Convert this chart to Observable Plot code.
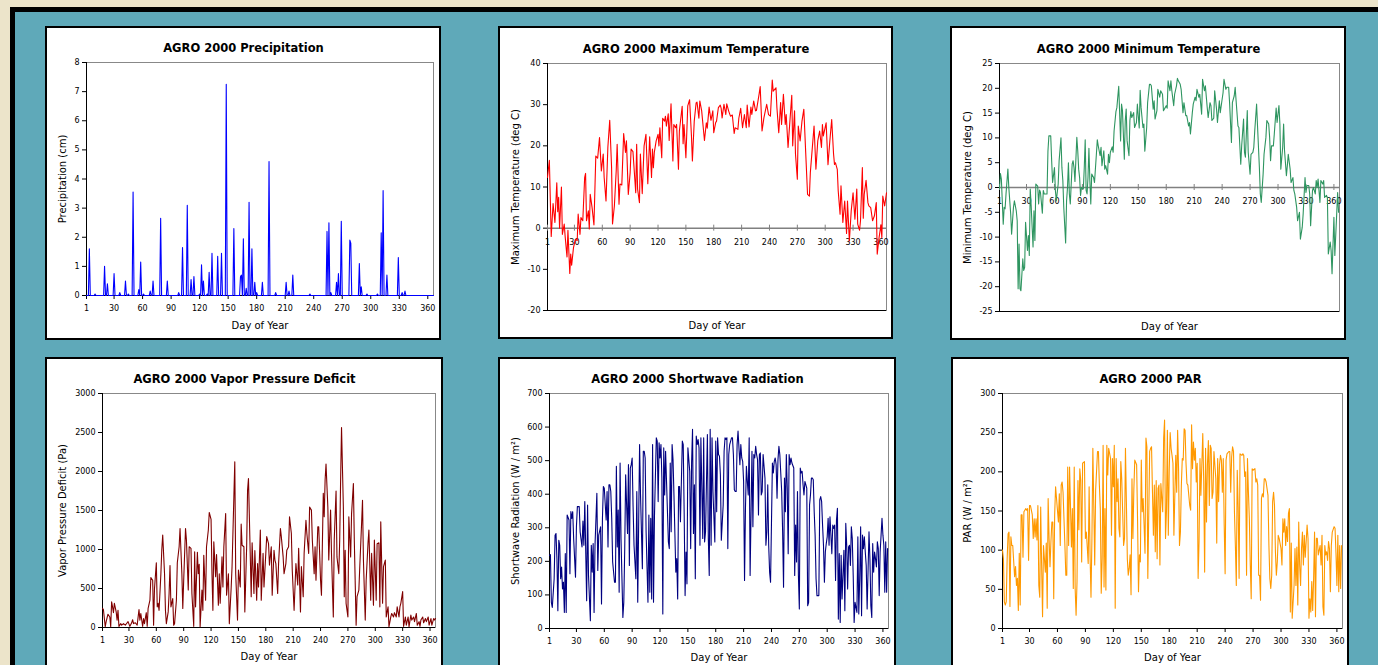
<!DOCTYPE html>
<html><head><meta charset="utf-8">
<script src="https://cdn.jsdelivr.net/npm/d3@7"></script>
<script src="https://cdn.jsdelivr.net/npm/@observablehq/plot@0.6"></script>
<style>
html,body{margin:0;padding:0;}
body{width:1378px;height:665px;overflow:hidden;background:#ece4ca;position:relative;font-family:"DejaVu Sans",sans-serif;}
#frame{position:absolute;left:10px;top:7px;width:1400px;height:700px;background:#5fa9b9;border-left:5px solid #000;border-top:5px solid #000;}
.panel{position:absolute;background:#fff;border:2px solid #000;box-sizing:border-box;overflow:hidden;}
.panel svg{display:block;}
</style></head><body>
<div id="frame"></div>
<script>
// ---------- data (day of year, value) ----------
const dayTicks = [1,30,60,90,120,150,180,210,240,270,300,330,360];

const precipRainDays = [4,10,20,23,30,36,42,45,50,56,58,61,68,71,79,86,98,102,107,111,114,120,122,124,128,130,133,139,143,148,156,163,164,166,169,172,175,178,180,186,193,200,211,214,218,236,254,256,258,264,266,269,278,279,288,290,296,307,311,313,317,329,333,336];
const precipRainCm = [1.6,0.05,1.0,0.4,0.75,0.1,0.5,0.05,3.55,0.2,1.15,0.05,0.15,0.5,2.65,0.5,0.1,1.65,3.1,0.55,0.65,0.05,1.05,0.5,0.05,0.8,1.45,1.35,1.45,7.25,2.3,0.65,0.7,1.95,0.25,3.2,1.6,0.45,0.1,0.45,4.6,0.1,0.45,0.15,0.7,0.05,2.2,2.5,0.1,0.45,0.75,2.55,1.9,1.8,1.1,0.3,0.05,0.05,2.15,3.6,0.7,1.3,0.1,0.15];

const maxTemp = [[1,12.3],[3,16.5],[5,-2],[7,6],[9,1.4],[11,11],[12,4],[13,7.5],[14,0],[16,10],[17,-1.5],[19,1],[20,-2],[22,-7],[23,-0.5],[25,-11],[26,-6.3],[27,-9],[29,-4.7],[31,-2.7],[33,-3],[34,3.4],[36,-1.5],[37,2.6],[39,1.8],[41,12.3],[42,13.3],[43,1.8],[45,4.2],[46,-0.2],[47,8.2],[49,5],[51,0.8],[53,17.5],[55,17],[57,22],[59,13.9],[61,18],[62,12.3],[64,6.6],[66,19.7],[68,26.2],[70,14.7],[71,1],[73,5.4],[75,14],[76,20.4],[78,5.8],[79,10.7],[81,10.5],[83,23],[85,18.4],[86,21.2],[88,8.2],[90,13.5],[91,19.2],[93,18.6],[96,8.6],[97,20.4],[98,9.5],[100,6.2],[101,18],[103,8.4],[105,20],[107,22.8],[109,10.8],[111,22.2],[113,12.3],[114,19.2],[115,14.7],[116,18.4],[118,21.2],[120,22.8],[121,20],[122,24.4],[124,17.1],[125,26.7],[127,26],[128,27.2],[129,24.8],[131,27.8],[132,21.3],[134,30.2],[136,16.3],[137,25.2],[139,24.4],[140,25.2],[142,14.3],[143,23.6],[146,29.6],[147,20.5],[148,25.2],[150,17.1],[152,29.7],[154,31.2],[156,22.4],[157,16.3],[159,26],[161,30.4],[162,30.6],[164,26.7],[165,30.9],[167,28.5],[170,21.3],[172,25.6],[173,24.3],[175,29.4],[177,26.2],[179,28.5],[180,23.2],[182,25.6],[183,26],[185,29.3],[187,29.9],[188,29.1],[189,26.8],[191,30.1],[193,27.6],[194,30.2],[196,28.5],[198,27.2],[200,27.5],[202,23],[203,24.4],[206,24],[207,26.7],[209,29.1],[211,24.4],[213,27.6],[215,24.4],[216,29.9],[218,24.6],[220,29.4],[221,27.6],[223,30.9],[225,28.5],[226,28.6],[229,32.8],[230,34.4],[232,23.6],[234,26.8],[237,30.1],[239,27.6],[241,27.2],[243,36],[244,33.3],[247,34.1],[248,29.3],[250,23.2],[252,30.5],[253,25.2],[255,32.5],[257,25.2],[258,27.6],[260,19.6],[262,26],[264,32.3],[265,20],[267,28.5],[268,18],[270,11.9],[271,24.8],[273,21.2],[275,26],[277,28.9],[279,18.4],[281,8.2],[283,7.8],[284,13.5],[287,22],[288,24.8],[290,14.3],[292,21.2],[294,23.6],[296,19.6],[297,25.2],[298,22.4],[301,25.6],[303,15.4],[305,21.2],[307,26.4],[309,18],[310,15.5],[311,15.9],[313,14.3],[314,9.1],[316,3.4],[317,10.3],[319,1.4],[321,6.6],[323,-1.3],[324,6.6],[326,-3.1],[328,4.2],[330,8.6],[332,2.2],[334,9.5],[335,1],[337,-0.5],[338,1.8],[340,14.7],[341,2.4],[342,8.2],[344,11.6],[346,6.2],[347,5.4],[349,5],[351,1.8],[353,3],[355,6.2],[356,-6.3],[358,-2.3],[360,0.8],[361,-2.3],[362,7.8],[364,5.4],[366,8.6]];

const minTemp = [[1,-0.3],[2,2.8],[3,1.7],[5,-7.4],[6,-4],[7,-4.3],[8,-1.3],[10,3.7],[11,0],[13,-5.3],[14,-9.4],[16,-4],[17,-2.7],[19,-4.7],[20,-6.7],[21,-20.4],[22,-11.4],[23,-20.4],[24,-20.8],[26,-14.4],[27,-16.7],[28,-16.1],[29,-7],[31,-12.7],[32,-9.7],[33,-13.7],[34,-0.3],[35,-3.7],[37,-12],[38,-4.7],[39,-10.7],[40,0.7],[42,0.3],[43,-3.3],[44,-0.5],[45,-1],[47,-5.2],[48,-0.6],[49,-1.3],[51,-1.3],[52,-1.3],[53,7.3],[54,10.4],[56,10.4],[57,5.4],[58,1],[60,4],[61,-0.6],[62,-2.7],[64,0.7],[65,5.4],[67,10],[68,4],[69,1.4],[70,-4],[72,-11.2],[73,-2.7],[74,0],[75,5],[76,-1.3],[77,-3.3],[79,4.7],[80,5.4],[81,4],[82,1.2],[84,10.1],[85,7.4],[86,3.7],[87,2],[88,-1.6],[89,0],[91,-0.3],[92,4],[93,9.6],[94,-0.6],[95,-1.3],[96,2],[97,7.9],[98,1.4],[99,-3.3],[100,2.7],[102,2],[103,1],[105,6.7],[106,9.6],[107,8.4],[109,6.4],[110,8.1],[111,4.4],[113,7.4],[114,3.7],[115,4.4],[117,2.7],[118,6.7],[119,5],[120,7.1],[122,8.2],[123,7.1],[124,11.4],[126,15.3],[127,16.1],[128,18.3],[129,20.4],[131,9.4],[132,16.8],[133,15.5],[135,5.7],[136,13.5],[137,15.8],[138,9.4],[140,6.4],[141,13.5],[142,15.3],[143,14.1],[145,15.1],[146,12.1],[148,13.1],[149,16.8],[151,12],[152,19.6],[153,16.1],[155,12.1],[156,12.8],[157,7.3],[159,12.1],[160,17.1],[162,20.8],[163,20.8],[164,20.5],[166,15.8],[167,17.5],[168,13.8],[170,15.5],[171,19.8],[173,18.2],[174,19.5],[176,18.8],[177,15.5],[178,15.8],[180,16.5],[181,16],[182,21.5],[184,19.5],[185,21.5],[186,19.5],[188,16.5],[189,18.8],[191,20.5],[192,22],[193,21.5],[195,20.8],[196,19.8],[198,15.1],[199,17.1],[201,14.5],[202,14.5],[204,12.4],[205,13.1],[206,10.8],[208,15.1],[209,16.8],[211,18.2],[212,17.5],[213,19.8],[215,18.2],[216,18.8],[218,14.8],[219,21.8],[221,19.5],[222,20.5],[224,16.1],[225,14.1],[227,17.1],[228,16.5],[229,13.5],[231,14],[232,19.5],[234,15.8],[235,13.1],[237,17.5],[238,15.1],[240,17.8],[241,19.1],[242,21.8],[244,19.8],[245,20.2],[247,20.2],[248,17.1],[250,9.1],[251,17.1],[253,18.5],[254,20.2],[255,17.5],[257,12.4],[258,12.1],[260,4.7],[261,8.4],[263,13.8],[264,7.1],[265,6.1],[267,15.5],[268,7.1],[270,2.7],[271,6.7],[273,7.1],[274,8.1],[275,11.4],[277,16.8],[278,12.4],[280,4],[281,-1.3],[282,-3],[284,2.7],[285,6.7],[287,10.1],[288,13.5],[290,12.8],[291,10.1],[292,5.4],[293,8.4],[295,8.4],[296,10.8],[298,16],[299,13.1],[301,16.5],[302,12.8],[303,3.7],[305,8.1],[306,12.8],[307,7.4],[309,2.4],[310,4.4],[311,6.7],[313,3.7],[314,1],[316,2],[317,-0.6],[318,-1.3],[320,-4],[321,-6.7],[323,-5],[324,-10.4],[326,-8],[327,-5.3],[329,2],[330,-1],[331,0.4],[333,0.4],[334,-1.3],[335,-7.7],[337,-0.6],[338,0],[340,-1.3],[341,1.4],[342,0],[343,1.7],[345,-3],[346,1.4],[348,0.7],[349,1.4],[350,-2],[352,-1.6],[353,-2],[354,-13.4],[356,-11],[357,-12.7],[358,-17.4],[360,-6],[361,-13.7],[363,-5.3],[364,-1],[365,-5]];

const vpd = [[1,245],[2,230],[4,10],[5,75],[7,170],[9,135],[10,10],[11,330],[12,265],[13,190],[14,310],[16,200],[17,95],[18,220],[19,15],[21,50],[22,30],[24,50],[26,30],[27,45],[29,75],[31,15],[33,60],[34,100],[35,50],[37,60],[38,45],[39,30],[41,230],[42,95],[43,180],[45,15],[46,115],[47,50],[49,190],[50,15],[51,245],[53,350],[54,640],[56,605],[57,30],[58,500],[60,830],[61,265],[62,310],[63,220],[65,690],[66,1000],[67,1185],[69,690],[70,220],[71,50],[73,200],[74,435],[75,795],[76,265],[78,370],[79,30],[80,50],[82,350],[83,830],[85,1035],[86,1270],[88,690],[89,245],[90,605],[92,1270],[93,1120],[95,480],[96,1035],[98,1015],[99,435],[101,15],[102,970],[103,265],[105,965],[106,690],[107,810],[108,10],[110,480],[111,220],[112,925],[114,350],[115,1035],[117,1250],[118,1475],[120,1385],[121,690],[122,220],[123,1100],[125,650],[126,935],[128,285],[129,690],[130,310],[132,905],[133,520],[134,1035],[136,1460],[137,415],[139,690],[140,50],[142,500],[143,780],[145,1675],[146,2125],[147,690],[149,95],[150,735],[152,520],[153,1325],[154,1055],[156,1035],[157,200],[159,1035],[160,1760],[161,1910],[163,905],[164,395],[165,1085],[167,435],[168,985],[170,350],[171,820],[172,520],[174,1250],[175,350],[177,950],[178,520],[180,950],[181,1165],[183,1075],[184,800],[186,1035],[187,415],[189,990],[190,865],[191,820],[193,435],[194,820],[196,1270],[197,1165],[199,905],[200,690],[202,820],[203,990],[205,1035],[206,1420],[208,1205],[209,735],[211,220],[212,520],[213,820],[215,545],[216,1015],[218,200],[219,780],[221,395],[222,950],[224,1375],[225,1205],[227,950],[228,1545],[230,1505],[231,1120],[233,690],[234,1035],[235,605],[237,1290],[238,1290],[240,605],[241,415],[243,1720],[244,1420],[245,1890],[246,2095],[248,1545],[249,865],[251,1505],[252,950],[254,135],[255,1120],[257,1750],[258,905],[260,690],[261,1120],[262,1890],[263,2565],[265,1545],[266,395],[267,990],[268,310],[270,135],[271,1420],[273,905],[274,1460],[276,1845],[277,1120],[279,30],[280,395],[282,480],[283,780],[285,1335],[286,1630],[287,865],[289,95],[290,605],[292,1075],[293,1250],[295,350],[296,950],[298,285],[299,1120],[301,350],[302,1075],[304,1085],[305,265],[306,1355],[308,310],[309,780],[311,865],[312,135],[314,265],[315,10],[317,135],[318,180],[320,135],[321,190],[323,135],[324,265],[326,135],[327,265],[328,310],[330,460],[331,15],[333,135],[334,30],[336,135],[337,10],[339,160],[340,95],[342,135],[343,75],[345,180],[346,30],[348,75],[349,15],[350,95],[352,135],[353,60],[355,115],[356,75],[358,135],[359,30],[361,115],[362,30],[364,115],[365,95],[366,115]];

const shortwave = [[1,218],[2,220],[3,78],[4,63],[6,148],[7,278],[8,283],[9,208],[10,53],[11,263],[12,248],[13,148],[14,183],[15,118],[16,138],[17,48],[18,223],[19,48],[20,338],[22,323],[23,163],[24,348],[25,328],[26,348],[27,268],[29,153],[30,303],[31,363],[33,363],[34,288],[36,243],[37,320],[38,248],[39,378],[41,83],[42,368],[43,158],[45,23],[46,248],[47,168],[48,253],[49,48],[50,248],[52,403],[53,173],[54,278],[56,303],[57,73],[58,328],[59,423],[60,418],[62,323],[63,408],[64,243],[65,428],[66,428],[67,408],[68,328],[69,198],[71,138],[72,138],[73,483],[74,243],[75,353],[76,108],[77,493],[78,268],[80,33],[81,78],[82,238],[83,458],[85,283],[86,488],[87,188],[88,478],[89,488],[90,508],[91,363],[92,248],[94,148],[95,408],[96,78],[98,548],[99,398],[101,178],[102,528],[103,528],[104,508],[105,288],[107,78],[108,338],[109,108],[110,328],[111,88],[112,548],[113,78],[114,333],[116,568],[117,558],[118,378],[119,553],[120,508],[121,548],[122,448],[123,43],[124,538],[125,398],[126,528],[127,438],[129,258],[130,238],[131,493],[132,288],[133,548],[134,503],[135,398],[137,168],[138,208],[139,88],[140,423],[141,423],[142,318],[144,558],[145,548],[146,343],[147,98],[148,228],[149,133],[150,538],[152,468],[153,238],[154,493],[155,593],[156,283],[157,428],[158,148],[159,573],[160,548],[161,563],[162,538],[163,248],[164,568],[166,268],[167,568],[168,258],[169,288],[171,578],[172,268],[173,158],[174,593],[175,248],[176,568],[177,408],[179,258],[180,558],[181,348],[182,568],[183,518],[184,513],[185,458],[186,263],[188,368],[189,528],[190,568],[191,563],[192,568],[193,238],[194,518],[195,548],[197,568],[198,568],[199,518],[200,413],[201,408],[202,408],[203,548],[204,588],[206,488],[207,548],[208,508],[209,498],[210,438],[211,143],[212,358],[213,483],[214,438],[215,398],[216,568],[217,158],[219,528],[220,303],[221,518],[222,508],[223,543],[224,518],[225,503],[226,338],[227,518],[228,523],[229,398],[230,408],[231,518],[233,448],[234,248],[235,288],[236,428],[237,248],[238,168],[239,138],[241,493],[242,463],[243,498],[244,508],[245,488],[246,388],[247,503],[248,543],[249,518],[251,408],[252,288],[253,123],[254,448],[255,348],[256,518],[257,418],[258,223],[259,518],[260,488],[261,508],[262,493],[264,478],[265,158],[266,308],[267,198],[268,408],[269,158],[270,58],[271,478],[272,463],[273,468],[274,428],[275,398],[276,438],[278,418],[279,68],[280,78],[281,368],[282,398],[283,448],[284,448],[285,443],[286,348],[287,278],[288,148],[289,98],[291,98],[292,383],[293,393],[294,378],[295,308],[296,248],[297,138],[298,228],[299,253],[300,273],[301,328],[302,248],[303,333],[305,223],[306,308],[307,298],[308,308],[309,143],[310,323],[311,358],[312,28],[313,223],[314,18],[315,218],[316,88],[318,233],[319,53],[320,313],[321,248],[322,118],[323,243],[324,248],[325,188],[326,303],[327,268],[328,158],[329,18],[330,78],[332,48],[333,273],[334,43],[335,148],[336,303],[337,38],[338,278],[339,238],[340,273],[341,228],[342,188],[343,58],[345,288],[346,208],[347,68],[348,33],[349,253],[350,168],[351,228],[352,208],[353,183],[354,258],[355,238],[356,98],[357,228],[359,328],[360,278],[361,248],[362,108],[363,258],[364,108],[365,238]];

const par = [[1,100],[2,89],[3,34],[4,30],[5,34],[6,89],[7,121],[8,123],[9,28],[10,117],[11,106],[12,106],[14,66],[15,79],[16,55],[17,64],[18,23],[19,96],[20,30],[21,145],[22,145],[23,91],[24,149],[25,151],[26,153],[27,151],[28,153],[29,87],[30,157],[31,157],[33,145],[34,115],[35,140],[36,117],[37,140],[38,113],[39,157],[40,55],[41,40],[42,155],[43,81],[44,15],[45,106],[47,72],[48,109],[49,26],[50,166],[51,115],[52,79],[53,111],[54,136],[55,136],[56,38],[57,145],[58,181],[59,166],[61,136],[62,172],[63,106],[64,183],[65,187],[66,174],[67,140],[68,106],[69,68],[70,68],[71,206],[72,106],[73,206],[75,104],[76,153],[77,51],[78,206],[79,51],[80,17],[81,60],[82,189],[83,126],[84,204],[85,189],[86,85],[87,211],[89,213],[90,115],[91,123],[92,104],[93,83],[94,181],[95,94],[96,40],[97,115],[98,230],[99,157],[100,81],[101,177],[103,226],[104,226],[105,183],[106,153],[107,45],[108,89],[109,234],[110,53],[111,153],[112,49],[113,234],[114,196],[115,230],[117,217],[118,119],[119,217],[120,181],[121,234],[122,26],[123,217],[124,162],[125,191],[126,128],[127,117],[128,213],[129,191],[131,106],[132,115],[133,230],[134,162],[135,89],[136,68],[137,77],[138,94],[139,43],[140,191],[141,115],[142,177],[143,215],[145,209],[146,138],[147,47],[148,94],[149,85],[150,215],[151,149],[152,166],[153,132],[154,96],[155,243],[156,232],[157,64],[159,226],[160,230],[161,232],[162,174],[163,119],[164,183],[165,98],[166,189],[167,89],[168,179],[169,183],[170,81],[171,185],[173,149],[174,243],[175,266],[176,115],[177,149],[178,253],[179,119],[180,202],[181,250],[182,230],[183,221],[184,211],[185,119],[187,221],[188,174],[189,253],[190,204],[191,106],[192,123],[193,183],[194,217],[195,215],[196,255],[197,253],[198,211],[199,185],[200,183],[202,157],[203,151],[204,260],[205,204],[206,238],[207,215],[208,230],[209,187],[210,211],[211,64],[212,111],[213,217],[214,170],[216,249],[217,189],[218,72],[219,230],[220,136],[221,209],[222,240],[223,157],[224,234],[225,230],[226,166],[227,174],[228,226],[230,191],[231,109],[232,217],[233,162],[234,209],[235,221],[236,215],[237,174],[238,217],[239,132],[240,70],[241,215],[242,223],[244,226],[245,226],[246,174],[247,219],[248,232],[249,226],[250,149],[251,106],[252,55],[253,202],[254,155],[255,64],[256,223],[258,221],[259,223],[260,221],[261,194],[262,200],[263,68],[264,217],[265,174],[266,140],[267,81],[268,38],[269,204],[270,202],[272,204],[273,187],[274,191],[275,183],[276,68],[277,68],[278,36],[279,166],[280,172],[281,168],[282,191],[283,191],[284,187],[286,170],[287,106],[288,64],[289,51],[290,68],[291,162],[292,174],[293,157],[294,98],[295,68],[296,85],[297,119],[298,115],[300,102],[301,81],[302,140],[303,123],[304,140],[305,106],[306,130],[307,111],[308,147],[309,153],[310,21],[311,109],[312,13],[314,55],[315,102],[316,55],[317,104],[318,30],[319,136],[320,81],[321,55],[322,102],[323,123],[324,81],[325,119],[326,91],[328,132],[329,115],[330,13],[331,38],[332,21],[333,60],[334,23],[335,64],[336,123],[337,15],[338,115],[339,115],[340,94],[342,106],[343,81],[344,119],[345,28],[346,17],[347,106],[348,94],[349,98],[350,87],[351,111],[352,102],[353,47],[354,106],[355,123],[357,130],[358,128],[359,96],[360,55],[361,119],[362,47],[363,106],[364,51],[365,106]];

// ---------- panels ----------
const rainByDay = new Map(precipRainDays.map((d, i) => [d, precipRainCm[i]]));
const precipTable = d3.range(1, 367).map(day => ({day, value: rainByDay.get(day) ?? 0}));
const toRows = arr => arr.map(([day, value]) => ({day, value}));

const panels = [
  {left: 45, top: 26, w: 396, h: 314, mL: 39, mR: 6, mT: 34, mB: 43, title: "AGRO 2000 Precipitation", ylabel: "Precipitation (cm)", yLabelOff: 24, xLabelDy: 30,
   yDomain: [0, 8], yTicks: d3.range(0, 9, 1), color: "#0000ff", data: precipTable, zero: false},
  {left: 498, top: 26, w: 395, h: 313, mL: 47, mR: 5, mT: 35, mB: 27, title: "AGRO 2000 Maximum Temperature", ylabel: "Maximum Temperature (deg C)", yLabelOff: 32, xLabelDy: 15,
   yDomain: [-20, 40], yTicks: d3.range(-20, 41, 10), color: "#ff0000", data: toRows(maxTemp), zero: true},
  {left: 950, top: 26, w: 396, h: 314, mL: 47, mR: 5, mT: 35, mB: 27, title: "AGRO 2000 Minimum Temperature", ylabel: "Minimum Temperature (deg C)", yLabelOff: 32, xLabelDy: 15,
   yDomain: [-25, 25], yTicks: d3.range(-25, 26, 5), color: "#2e9560", data: toRows(minTemp), zero: true},
  {left: 45, top: 357, w: 398, h: 314, mL: 55, mR: 6, mT: 34, mB: 42, title: "AGRO 2000 Vapor Pressure Deficit", ylabel: "Vapor Pressure Deficit (Pa)", yLabelOff: 40, xLabelDy: 29,
   yDomain: [0, 3000], yTicks: d3.range(0, 3001, 500), color: "#800000", data: toRows(vpd), zero: false},
  {left: 498, top: 357, w: 398, h: 314, mL: 49, mR: 6, mT: 34, mB: 41, title: "AGRO 2000 Shortwave Radiation", ylabel: "Shortwave Radiation (W / m²)", yLabelOff: 34, xLabelDy: 29,
   yDomain: [0, 700], yTicks: d3.range(0, 701, 100), color: "#000080", data: toRows(shortwave), zero: false},
  {left: 951, top: 357, w: 398, h: 314, mL: 49, mR: 5, mT: 34, mB: 41, title: "AGRO 2000 PAR", ylabel: "PAR (W / m²)", yLabelOff: 35, xLabelDy: 29,
   yDomain: [0, 300], yTicks: d3.range(0, 301, 50), color: "#ff9900", data: toRows(par), zero: false}
];

for (const p of panels) {
  const div = document.createElement("div");
  div.className = "panel";
  Object.assign(div.style, {left: p.left + "px", top: p.top + "px", width: p.w + "px", height: p.h + "px"});
  document.body.appendChild(div);
  const W = p.w - 4, H = p.h - 4;
  const marks = [
    Plot.frame({stroke: "#888888"}),
    Plot.ruleX([1], {stroke: "#000"}),
    Plot.ruleY([p.yDomain[0]], {stroke: "#000"}),
    Plot.text([p.title], {frameAnchor: "top", lineAnchor: "middle", dy: -14, dx: (p.mR - p.mL) / 2, fontWeight: "bold", fontSize: 11.5}),
    Plot.text([p.ylabel], {frameAnchor: "left", rotate: -90, dx: -p.yLabelOff, textAnchor: "middle", lineAnchor: "middle", fontSize: 10}),
    Plot.text(["Day of Year"], {frameAnchor: "bottom", lineAnchor: "middle", dy: p.xLabelDy, fontSize: 10})
  ];
  if (p.zero) {
    marks.push(
      Plot.ruleY([0], {stroke: "#808080", strokeWidth: 1.5}),
      Plot.ruleX(dayTicks, {x: d => d, y1: 0, y2: 0, insetTop: -3, insetBottom: -3, stroke: "#808080"}),
      Plot.text(dayTicks, {x: d => d, y: 0, text: d => String(d), dy: 14, fontSize: 8})
    );
  }
  marks.push(Plot.line(p.data, {x: "day", y: "value", stroke: p.color, strokeWidth: 1.1}));
  const chart = Plot.plot({
    width: W, height: H,
    marginLeft: p.mL, marginRight: p.mR, marginTop: p.mT, marginBottom: p.mB,
    style: {fontFamily: "DejaVu Sans", fontSize: "8px", background: "white", color: "#000", overflow: "visible"},
    x: {domain: [1, 366], ticks: dayTicks, tickSize: 4, tickPadding: 6, tickFormat: d => String(d), label: null, axis: p.zero ? null : "bottom"},
    y: {domain: p.yDomain, ticks: p.yTicks, tickSize: 4, tickPadding: 3, tickFormat: d => String(d), label: null},
    marks
  });
  div.appendChild(chart);
}
</script>
</body></html>
